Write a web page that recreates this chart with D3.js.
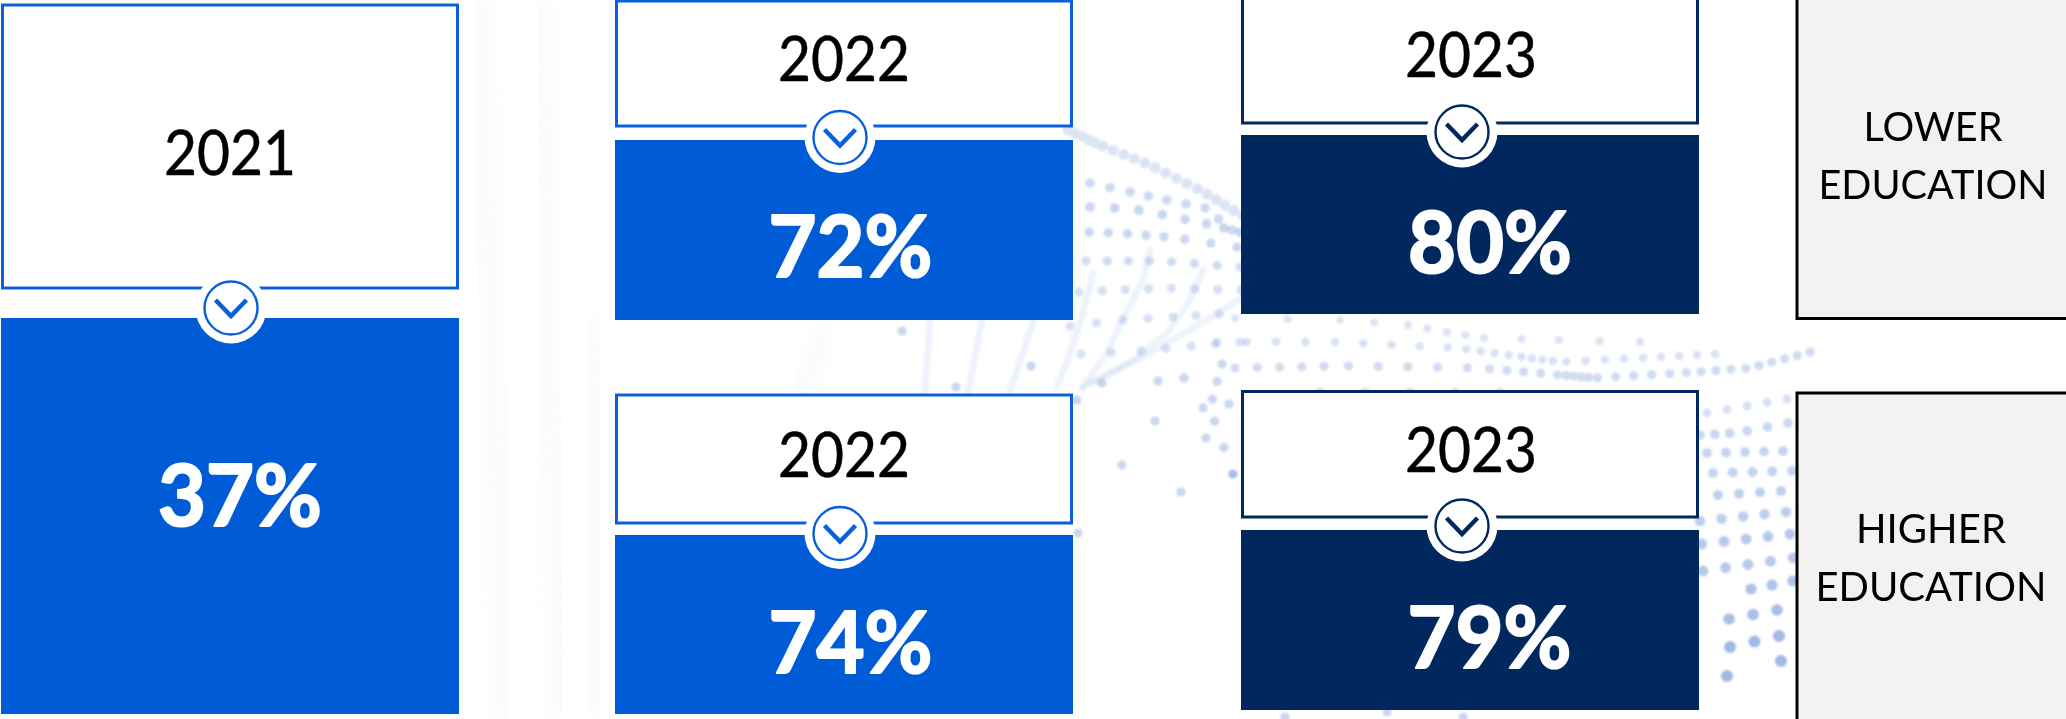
<!DOCTYPE html>
<html><head><meta charset="utf-8">
<script src="https://cdnjs.cloudflare.com/ajax/libs/d3/7.8.5/d3.min.js"></script>
<style>html,body{margin:0;padding:0;background:#fff;overflow:hidden}svg{display:block}text{font-family:Lato,"Open Sans",sans-serif}</style>
</head><body><svg id="c" width="2066" height="719"></svg>
<script>
// ---- chart values ----
const years = ["2021", "2022", "2023"];
const rowLabels = [["LOWER", "EDUCATION"], ["HIGHER", "EDUCATION"]];
const panelYears = ["2021", "2022", "2022", "2023", "2023"];
const panelValues = [37, 72, 74, 80, 79];
const panelRows = ["all", "lower", "higher", "lower", "higher"];

// ---- layout (pixel geometry, separate from the data) ----
const W = 2066, H = 719, colW = 458;
const x = d3.scaleOrdinal().domain(years).range([1, 615, 1241]);
const fills = d3.scaleOrdinal().domain(years).range(["#005bd7", "#005bd7", "#00285e"]);
const strokes = d3.scaleOrdinal().domain(years).range(["#0a60dc", "#0a60dc", "#00285e"]);
const geom = [
  {top: 5, headBottom: 288, valTop: 318, valBottom: 714, cy: 308, yearBase: 175, valBase: 526, valCx: 240},
  {top: 1, headBottom: 126, valTop: 140, valBottom: 320, cy: 137.5, yearBase: 81, valBase: 277, valCx: 850.5},
  {top: 395, headBottom: 523, valTop: 535, valBottom: 714, cy: 533.5, yearBase: 477, valBase: 673, valCx: 850.5},
  {top: -3, headBottom: 123, valTop: 135, valBottom: 314, cy: 132, yearBase: 77, valBase: 273, valCx: 1490},
  {top: 391.5, headBottom: 517, valTop: 530, valBottom: 710, cy: 526, yearBase: 472, valBase: 668, valCx: 1489.5}
];
const yearW = 132, valW = 164;
const boxes = [
  {top: -5, bottom: 318.5, base: [141, 199], widths: [139, 229], cx: 1933},
  {top: 393, bottom: 725, base: [543, 601], widths: [150, 231], cx: 1931}
];

// ---- faint dotted background texture ----
const dotRows = [
  {n: 20, r: 5.5, o: .28, p: [[1068,130],[1100,145],[1150,165],[1200,190],[1243,216]]},
  {n: 9, r: 4.8, o: .38, p: [[1090,183],[1130,192],[1167,200],[1205,208],[1232,230]]},
  {n: 8, r: 4.8, o: .42, p: [[1090,207],[1133,209],[1174,217],[1212,225],[1240,232]]},
  {n: 8, r: 4.6, o: .42, p: [[1089,232],[1134,234],[1176,238],[1237,247]]},
  {n: 8, r: 4.6, o: .36, p: [[1086,261],[1160,261],[1240,267]]},
  {n: 8, r: 4.6, o: .32, p: [[1079,292],[1160,288],[1241,290]]},
  {n: 7, r: 4.6, o: .3, p: [[1070,326],[1123,320],[1173,317],[1219,314]]},
  {n: 7, r: 4.6, o: .3, p: [[1081,354],[1141,351],[1191,346],[1240,342]]},
  {n: 13, r: 4, o: .28, p: [[1235,318],[1340,320],[1408,325],[1447,332],[1484,338],[1559,340],[1640,342]]},
  {n: 26, r: 4.2, o: .3, p: [[1217,342],[1340,342],[1457,348],[1516,356],[1560,362],[1640,358],[1715,354]]},
  {n: 34, r: 4.6, o: .36, p: [[1235,368],[1340,366],[1480,368],[1560,375],[1595,378],[1680,373],[1750,368],[1810,352]]},
  {n: 5, r: 4.4, o: .32, p: [[1707,413],[1747,406],[1787,399]]},
  {n: 6, r: 4.8, o: .42, p: [[1700,435],[1737,433],[1788,423]]},
  {n: 5, r: 4.8, o: .46, p: [[1707,453],[1783,451]]},
  {n: 5, r: 5, o: .46, p: [[1713,473],[1792,471]]},
  {n: 4, r: 5, o: .5, p: [[1718,495],[1781,491]]},
  {n: 5, r: 5.2, o: .5, p: [[1700,521],[1786,512]]},
  {n: 5, r: 5.4, o: .56, p: [[1702,544],[1790,534]]},
  {n: 5, r: 5.4, o: .56, p: [[1703,571],[1793,558]]},
  {n: 3, r: 5.6, o: .62, p: [[1751,589],[1793,581]]},
  {n: 3, r: 5.8, o: .68, p: [[1729,619],[1777,610]]},
  {n: 3, r: 6, o: .72, p: [[1730,647],[1779,636]]},
  {n: 2, r: 6, o: .72, p: [[1727,676],[1781,661]]},
  {n: 5, r: 4.6, o: .34, p: [[1320,392],[1500,392]]},
  {n: 6, r: 4.6, o: .42, p: [[1222,364],[1210,408],[1233,474]]}
];
const dotStrands = [
  {n: 26, p: [[1093,273],[1083,313],[1070,353],[1057,387]]},
  {n: 32, p: [[1150,250],[1143,280],[1122,320],[1107,353],[1083,387]]},
  {n: 36, p: [[1203,270],[1190,300],[1167,333],[1133,360],[1083,387]]},
  {n: 36, p: [[1243,297],[1207,320],[1150,353],[1093,383]]},
  {n: 18, p: [[930,320],[925,392]]},
  {n: 18, p: [[982,320],[968,392]]},
  {n: 18, p: [[1034,320],[1010,392]]}
];
const looseDots = [[902,331],[956,387],[1031,366],[1102,383],[1158,381],[1184,378],[1203,408],[1229,404],
  [1155,421],[1206,438],[1122,465],[1233,474],[1181,492],[1078,533],[1285,717],[1387,712],[1463,717],[1077,400]];
const streaks = [[480,0,505,719],[540,0,560,719],[590,320,600,719],[830,325,800,395]];

const svg = d3.select("#c");
const defs = svg.append("defs");
defs.append("filter").attr("id","soft").append("feGaussianBlur").attr("stdDeviation",.9);
defs.append("filter").attr("id","soft2").append("feGaussianBlur").attr("stdDeviation",9);

const bg = svg.append("g");
bg.selectAll("line.streak").data(streaks).join("line").attr("class","streak")
  .attr("x1",d=>d[0]).attr("y1",d=>d[1]).attr("x2",d=>d[2]).attr("y2",d=>d[3])
  .attr("stroke","#eef2fa").attr("stroke-width",12).attr("opacity",.6).attr("filter","url(#soft2)");
const dotLayer = bg.append("g").attr("filter","url(#soft)").attr("fill","#7f9fdc");
const sample = s => { const f = d3.piecewise(d3.interpolateArray, s.p); return d3.quantize(t => f(t).slice(), s.n); };
dotRows.forEach(s => dotLayer.append("g").attr("opacity", s.o).selectAll("circle").data(sample(s)).join("circle")
  .attr("cx",d=>d[0]).attr("cy",d=>d[1]).attr("r",s.r));
dotStrands.forEach(s => dotLayer.append("g").attr("opacity",.13).selectAll("circle").data(sample(s)).join("circle")
  .attr("cx",d=>d[0]).attr("cy",d=>d[1]).attr("r",3.6));
dotLayer.append("g").attr("opacity",.42).selectAll("circle").data(looseDots).join("circle")
  .attr("cx",d=>d[0]).attr("cy",d=>d[1]).attr("r",4.6);

// ---- panels ----
const panels = panelYears.map((y,i)=>({year:y, value:panelValues[i], row:panelRows[i], ...geom[i]}));
const g = svg.selectAll("g.panel").data(panels).join("g").attr("class","panel");

g.append("rect").attr("class","head")
  .attr("x",d=>x(d.year)+1.5).attr("y",d=>d.top)
  .attr("width",colW-3).attr("height",d=>d.headBottom-d.top)
  .attr("fill","#fff").attr("stroke",d=>strokes(d.year)).attr("stroke-width",3);
g.append("rect").attr("class","val")
  .attr("x",d=>x(d.year)).attr("y",d=>d.valTop)
  .attr("width",colW).attr("height",d=>d.valBottom-d.valTop)
  .attr("fill",d=>fills(d.year));

const cx = d => x(d.year)+colW/2+(d.year==="2021"?1:(d.year==="2022"?-4:-8));
g.append("circle").attr("cx",cx).attr("cy",d=>d.cy).attr("r",35.5).attr("fill","#fff");
g.append("circle").attr("cx",cx).attr("cy",d=>d.cy).attr("r",26.5)
  .attr("fill","#fff").attr("stroke",d=>strokes(d.year)).attr("stroke-width",2.4);
const chev = d3.line();
g.append("path").attr("d",d=>chev([[cx(d)-15.5,d.cy-8],[cx(d),d.cy+8],[cx(d)+15.5,d.cy-8]]))
  .attr("fill","none").attr("stroke",d=>strokes(d.year)).attr("stroke-width",4.4);

g.append("text").attr("class","yr")
  .attr("x",d=>cx(d)+(d.year==="2021"?-1:d.year==="2022"?4:9)).attr("y",d=>d.yearBase)
  .attr("text-anchor","middle").attr("font-size",62).attr("fill","#000")
  .attr("stroke","#000").attr("stroke-width",.5)
  .attr("textLength",yearW).attr("lengthAdjust","spacingAndGlyphs").text(d=>d.year);
g.append("text").attr("class","pct")
  .attr("x",d=>d.valCx).attr("y",d=>d.valBase)
  .attr("text-anchor","middle").attr("font-size",86).attr("font-weight",700).attr("fill","#fff")
  .attr("stroke","#fff").attr("stroke-width",2.2).attr("stroke-linejoin","round")
  .attr("textLength",valW).attr("lengthAdjust","spacingAndGlyphs").text(d=>d.value+"%");

// ---- row labels ----
const b = svg.selectAll("g.rowbox").data(rowLabels.map((l,i)=>({lines:l, ...boxes[i]}))).join("g").attr("class","rowbox");
b.append("rect").attr("x",1797).attr("y",d=>d.top).attr("width",W-1797+10).attr("height",d=>d.bottom-d.top)
  .attr("fill","#f2f2f2").attr("stroke","#000").attr("stroke-width",3);
b.each(function(d){
  d3.select(this).selectAll("text").data(d.lines).join("text")
    .attr("x",d.cx).attr("y",(t,i)=>d.base[i]).attr("text-anchor","middle")
    .attr("font-size",41).attr("fill","#000")
    .attr("textLength",(t,i)=>d.widths[i]).attr("lengthAdjust","spacingAndGlyphs").text(t=>t);
});
</script></body></html>
